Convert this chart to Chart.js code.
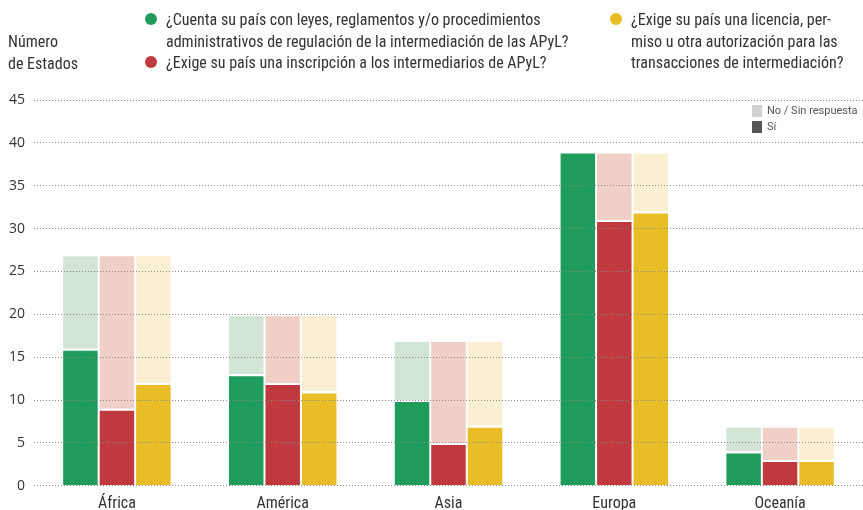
<!DOCTYPE html>
<html><head><meta charset="utf-8">
<script src="https://cdn.jsdelivr.net/npm/chart.js@4/dist/chart.umd.min.js"></script>
<style>
html,body{margin:0;padding:0;background:#fff;overflow:hidden;}
#wrap{position:relative;width:863px;height:510px;overflow:hidden;font-family:"Liberation Sans Narrow","Roboto Condensed","Open Sans",sans-serif;color:#333;}
#c{position:absolute;left:0;top:0;}
.t{position:absolute;font-size:16px;line-height:21.5px;white-space:nowrap;color:#333;}
.dot{position:absolute;width:12px;height:12px;border-radius:50%;}
.sq{position:absolute;width:10px;height:12px;}
.s{position:absolute;font-size:11px;color:#555;white-space:nowrap;font-family:Roboto,sans-serif;}
</style></head><body>
<div id="wrap">
<canvas id="c" width="863" height="510"></canvas>
<div class="t" style="left:8px;top:31px;">Número<br>de Estados</div>
<div class="dot" style="left:145px;top:13px;background:#1f9c5b"></div>
<div class="t" style="left:166px;top:9px;">¿Cuenta su país con leyes, reglamentos y/o procedimientos<br>administrativos de regulación de la intermediación de las APyL?</div>
<div class="dot" style="left:145px;top:56px;background:#c0393e"></div>
<div class="t" style="left:166px;top:52px;">¿Exige su país una inscripción a los intermediarios de APyL?</div>
<div class="dot" style="left:610px;top:13px;background:#e8bd25"></div>
<div class="t" style="left:631px;top:9px;">¿Exige su país una licencia, per-<br>miso u otra autorización para las<br>transacciones de intermediación?</div>
<div class="sq" style="left:752px;top:105px;background:#d0d0d0"></div>
<div class="s" style="left:767px;top:104px;">No / Sin respuesta</div>
<div class="sq" style="left:752px;top:121px;background:#555"></div>
<div class="s" style="left:767px;top:120px;">Sí</div>
</div>
<script>
const categories = ["África", "América", "Asia", "Europa", "Oceanía"];
const totals = [27, 20, 17, 39, 7];
const leyesSi = [16, 13, 10, 39, 4];
const inscripcionSi = [9, 12, 5, 31, 3];
const licenciaSi = [12, 11, 7, 32, 3];
const yTicks = [0, 5, 10, 15, 20, 25, 30, 35, 40, 45];

const rest = arr => arr.map((v, i) => totals[i] - v);
const bw = {left:1, right:1, top:2, bottom:0};
function ds(label, data, color, stack){
  return {label, data, backgroundColor: color, borderColor:'#fff', borderWidth: bw, borderSkipped: false, stack};
}
new Chart(document.getElementById('c'), {
  type: 'bar',
  data: {
    labels: categories,
    datasets: [
      ds('Leyes Sí', leyesSi, '#1f9c5b', 'a'),
      ds('Leyes No', rest(leyesSi), '#d2e4d6', 'a'),
      ds('Inscripción Sí', inscripcionSi, '#c0393e', 'b'),
      ds('Inscripción No', rest(inscripcionSi), '#efcfc6', 'b'),
      ds('Licencia Sí', licenciaSi, '#e8bd25', 'c'),
      ds('Licencia No', rest(licenciaSi), '#faefd3', 'c')
    ]
  },
  options: {
    responsive: false,
    animation: false,
    layout: {padding: {top: 100, right: 0, left: 0, bottom: -5}},
    plugins: {legend: {display: false}, tooltip: {enabled: false}},
    datasets: {bar: {categoryPercentage: 0.66, barPercentage: 1}},
    scales: {
      x: {
        stacked: true,
        grid: {display: false},
        border: {display: false},
        ticks: {color: '#333', font: {family: '"Liberation Sans Narrow","Roboto Condensed","Open Sans",sans-serif', size: 16}, padding: 1}
      },
      y: {
        stacked: true,
        min: 0, max: 45,
        afterBuildTicks: s => { s.ticks = yTicks.map(v => ({value: v})); },
        grid: {color: '#888', lineWidth: 1, z: 1, drawTicks: false},
        border: {display: false, dash: [1, 2]},
        ticks: {color: '#333', padding: 9, font: {family: '"Open Sans",sans-serif', size: 14}}
      }
    }
  }
});
</script>
</body></html>
